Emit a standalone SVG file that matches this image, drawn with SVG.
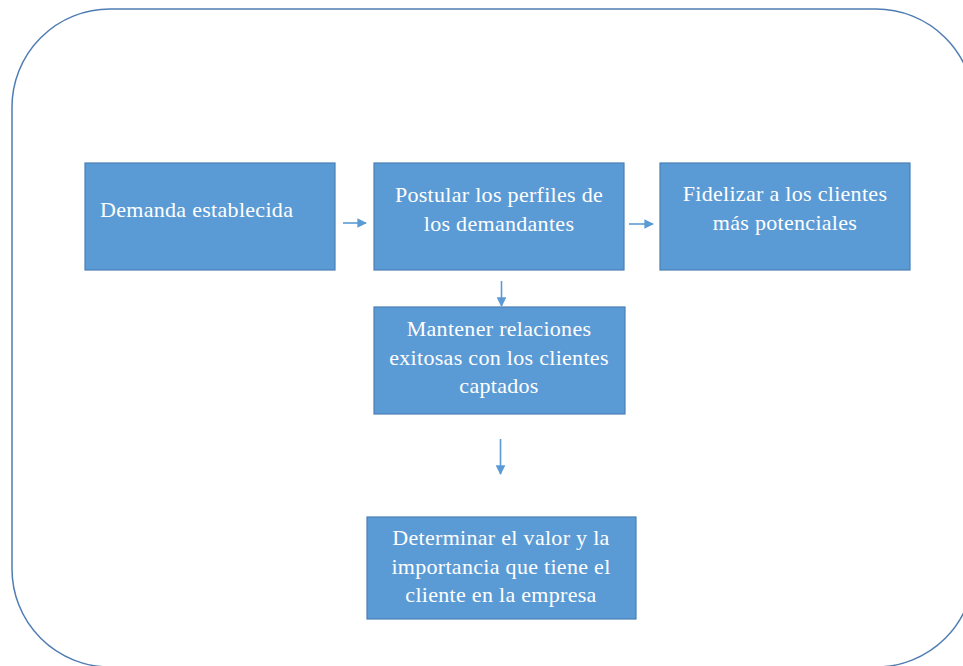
<svg xmlns="http://www.w3.org/2000/svg" width="963" height="666" viewBox="0 0 963 666">
<defs>
<style>
.box{fill:#5b9bd5;stroke:#4a7fb5;stroke-width:1.2}
.t{font-family:"Liberation Serif","Times New Roman",serif;font-size:22px;letter-spacing:0.3px;fill:#ffffff}
.c{text-anchor:middle}
.conn{stroke:#5b9bd5;stroke-width:1.6;fill:none;marker-end:url(#ah)}
</style>
<marker id="ah" viewBox="0 0 10 10" refX="9" refY="5" markerWidth="6" markerHeight="6" orient="auto" markerUnits="strokeWidth">
<path d="M0,0 L10,5 L0,10 z" fill="#5b9bd5"/>
</marker>
</defs>
<rect x="0" y="0" width="963" height="666" fill="#ffffff"/>
<rect id="frame" x="12" y="9" width="962" height="658" rx="98" ry="98" fill="none" stroke="#4f7db3" stroke-width="1.5"/>
<g id="n1"><rect class="box" x="85" y="163" width="250" height="107"/><text class="t" x="100" y="217">Demanda establecida</text></g>
<g id="n2"><rect class="box" x="374" y="163" width="250" height="107"/><text class="t c" x="499" y="202">Postular los perfiles de</text><text class="t c" x="499" y="231">los demandantes</text></g>
<g id="n3"><rect class="box" x="660" y="163" width="250" height="107"/><text class="t c" x="785" y="201">Fidelizar a los clientes</text><text class="t c" x="785" y="230">más potenciales</text></g>
<g id="n4"><rect class="box" x="374" y="307" width="251" height="107"/><text class="t c" x="499" y="336">Mantener relaciones</text><text class="t c" x="499" y="365">exitosas con los clientes</text><text class="t c" x="499" y="393">captados</text></g>
<g id="n5"><rect class="box" x="367" y="517" width="269" height="102"/><text class="t c" x="501" y="545">Determinar el valor y la</text><text class="t c" x="501" y="574">importancia que tiene el</text><text class="t c" x="501" y="602">cliente en la empresa</text></g>
<g id="connectors">
<line class="conn" x1="343" y1="223" x2="366" y2="223"/>
<line class="conn" x1="629" y1="224" x2="653" y2="224"/>
<line class="conn" x1="501.5" y1="281" x2="501.5" y2="306"/>
<line class="conn" x1="500.5" y1="439" x2="500.5" y2="474"/>
</g>
</svg>
